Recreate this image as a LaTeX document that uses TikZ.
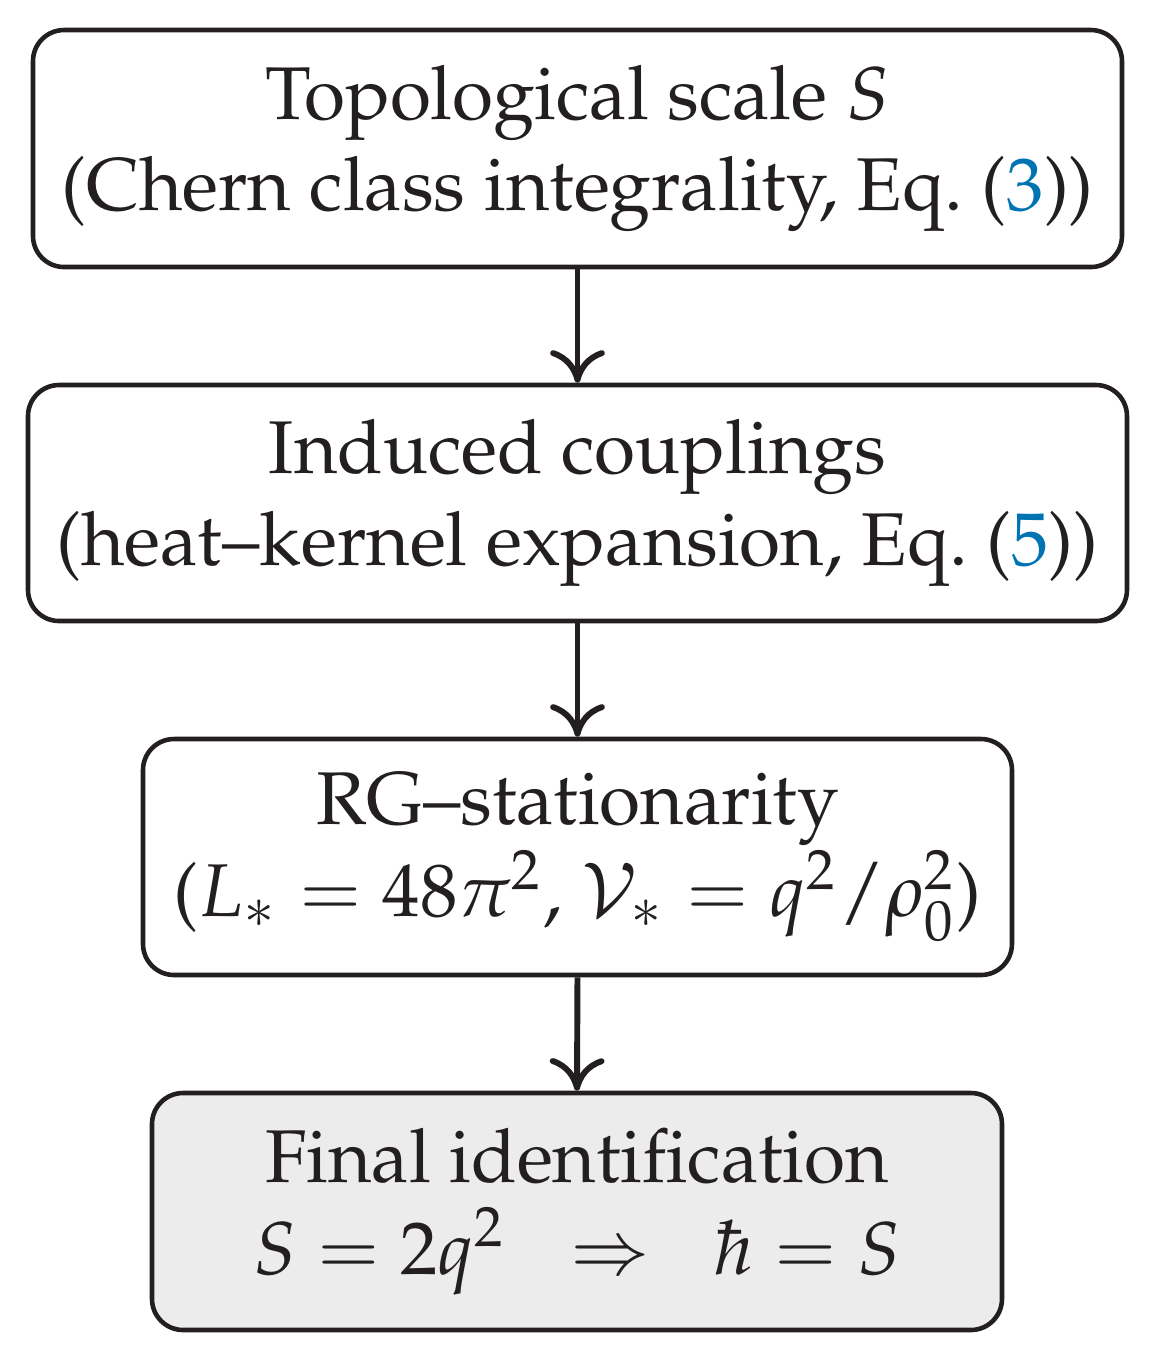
\documentclass[tikz,border=0pt]{standalone}
\usepackage[T1]{fontenc}
\usepackage{mathpazo}
\usetikzlibrary{arrows.meta}
\definecolor{cite}{rgb}{0.0,0.45,0.70}
\definecolor{ink}{HTML}{231F20}
\definecolor{finalfill}{HTML}{ECECEC}
\begin{document}
\begin{tikzpicture}[x=0.1351pt,y=-0.1351pt,
  box/.style={draw=ink, line width=0.62pt, rounded corners=4.2pt, align=center,
    inner sep=0pt, text=ink, font=\fontsize{10.1}{12.4}\selectfont},
  flow/.style={draw=ink, line width=0.8pt, -{Computer Modern Rightarrow[length=4.4pt,width=7.4pt]}}]
\useasboundingbox (0,0) rectangle (1157,1361);
\node[box, minimum width=1089*0.1351pt, minimum height=237*0.1351pt] (b1) at (577.5,148.5)
  {Topological scale $S$\\(Chern class integrality, Eq.~(\textcolor{cite}{3}))};
\node[box, minimum width=1099*0.1351pt, minimum height=236*0.1351pt] (b2) at (577.5,503)
  {Induced couplings\\(heat--kernel expansion, Eq.~(\textcolor{cite}{5}))};
\node[box, minimum width=869*0.1351pt, minimum height=236*0.1351pt] (b3) at (577.5,857)
  {RG--stationarity\\($L_\ast = 48\pi^2$, $\mathcal{V}_\ast = q^2/\rho_0^2$)};
\node[box, fill=finalfill, minimum width=850*0.1351pt, minimum height=237*0.1351pt] (b4) at (577,1211.5)
  {Final identification\\$S = 2q^2 \hspace{5.8pt}\Rightarrow\hspace{5.8pt} \hbar = S$};
\draw[flow] (b1.south) -- (b2.north);
\draw[flow] (b2.south) -- (b3.north);
\draw[flow] (b3.south) -- (b4.north);
\end{tikzpicture}
\end{document}
